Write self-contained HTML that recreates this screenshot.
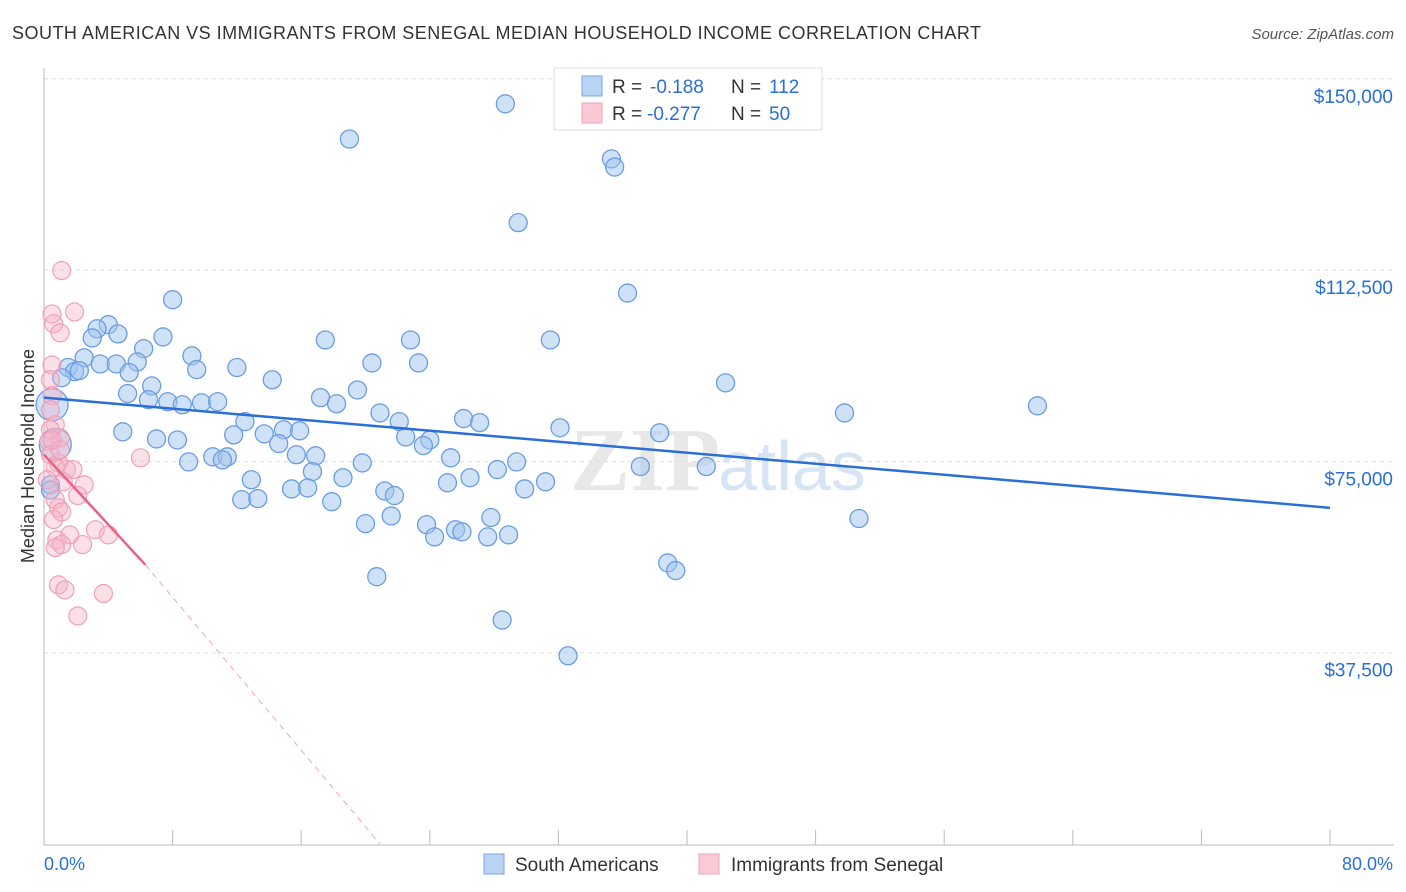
<!DOCTYPE html>
<html><head><meta charset="utf-8"><style>
body{margin:0;background:#fff;font-family:"Liberation Sans",sans-serif}
svg{display:block}
</style></head><body>
<svg id="c" width="1406" height="892">
<text x="12" y="39" font-size="18" fill="#333" textLength="969" lengthAdjust="spacing">SOUTH AMERICAN VS IMMIGRANTS FROM SENEGAL MEDIAN HOUSEHOLD INCOME CORRELATION CHART</text>
<text x="1394" y="39" font-size="15" fill="#555" font-style="italic" text-anchor="end">Source: ZipAtlas.com</text>
<text x="720" y="490" font-size="90" font-weight="bold" fill="#e8e8e8" text-anchor="end" font-family="Liberation Serif">ZIP</text>
<text x="718" y="490" font-size="70" fill="#d6e4f5">atlas</text>
<g id="grid"></g><g id="axes"></g><g id="marks"></g>
<text transform="translate(34,456) rotate(-90)" font-size="18" fill="#333" text-anchor="middle">Median Household Income</text>
<g>
<rect x="554" y="68" width="268" height="62" fill="#fff" stroke="#ddd"/>
<rect x="582" y="76" width="20" height="20" fill="#b9d3f3" stroke="#7aa7e0"/>
<rect x="582" y="103" width="20" height="20" fill="#f9c9d6" stroke="#eea3b8"/>
<text x="612" y="93" font-size="19" fill="#333">R =</text><text x="650" y="93" font-size="19" fill="#2a6fd6">-0.188</text>
<text x="731" y="93" font-size="19" fill="#333">N =</text><text x="769" y="93" font-size="19" fill="#2a6fd6">112</text>
<text x="612" y="120" font-size="19" fill="#333">R =</text><text x="647" y="120" font-size="19" fill="#2a6fd6">-0.277</text>
<text x="731" y="120" font-size="19" fill="#333">N =</text><text x="769" y="120" font-size="19" fill="#2a6fd6">50</text>
</g>
<g>
<rect x="484" y="854" width="20" height="20" fill="#b9d3f3" stroke="#7aa7e0"/>
<text x="515" y="871" font-size="19" fill="#333">South Americans</text>
<rect x="699" y="854" width="20" height="20" fill="#f9c9d6" stroke="#eea3b8"/>
<text x="731" y="871" font-size="19" fill="#333">Immigrants from Senegal</text>
</g>
</svg>
<script>
const blueX=[28.7,19.0,35.3,35.5,29.5,36.3,8.0,4.0,3.3,4.6,7.4,3.0,6.2,17.5,22.8,31.5,9.2,2.5,1.5,3.5,4.5,5.8,9.5,12.0,20.4,23.3,1.9,2.2,5.3,1.1,6.7,14.2,42.4,5.2,6.5,7.7,8.6,9.8,10.8,19.5,17.2,18.2,61.8,49.8,20.9,22.1,26.1,27.1,12.5,4.9,11.8,13.7,14.9,15.9,7.0,8.3,22.5,24.0,32.1,38.3,14.6,23.6,10.5,11.4,11.1,9.0,15.7,16.9,19.8,25.3,37.1,41.2,28.2,29.4,12.9,16.7,18.6,26.5,25.1,31.2,21.2,21.8,15.4,16.4,29.9,12.3,13.3,17.9,20.0,21.6,23.8,27.8,25.6,26.0,24.3,27.6,28.9,50.7,38.8,39.3,20.7,28.5,32.6,0.5,0.7,0.4,0.4];
const blueY=[145.1,138.2,134.3,132.7,121.8,108.0,106.7,101.8,101.0,100.0,99.4,99.2,97.1,98.8,98.8,98.8,95.7,95.3,93.4,94.1,94.1,94.5,93.0,93.4,94.3,94.3,92.6,92.8,92.4,91.4,89.8,91.0,90.4,88.3,87.1,86.7,86.1,86.5,86.7,89.0,87.5,86.3,85.9,84.5,84.5,82.8,83.4,82.6,82.8,80.8,80.2,80.4,81.2,81.0,79.4,79.2,79.8,79.2,81.6,80.6,78.5,78.1,75.9,75.9,75.3,74.9,76.3,76.1,74.7,75.7,74.0,74.0,73.4,74.9,71.4,73.0,71.8,71.8,70.8,71.0,69.2,68.3,69.6,69.8,69.6,67.5,67.7,67.1,62.8,64.3,62.6,64.0,61.6,61.2,60.2,60.2,60.6,63.8,55.1,53.6,52.4,43.9,36.9,86.1,78.3,70.4,69.4];
const pinkX=[1.1,1.9,0.5,0.6,1.0,0.5,0.4,0.5,0.4,0.7,1.0,0.3,0.4,0.9,0.7,1.4,1.8,1.2,2.5,2.1,0.7,0.9,1.1,6.0,0.2,3.2,1.6,4.0,0.8,1.1,2.4,0.7,0.9,1.3,3.7,2.1,0.4,0.6,1.0,0.5];
const pinkY=[112.4,104.3,103.9,102.0,100.2,93.9,91.0,87.9,85.1,82.2,79.6,78.9,76.3,74.7,73.8,73.4,73.4,71.0,70.4,68.3,67.5,65.9,65.1,75.7,71.4,61.6,60.6,60.6,59.6,58.7,58.7,58.1,50.8,49.8,49.1,44.7,81.2,63.6,77.3,79.2];
const blueTrend=[[0,87.5],[80,65.9]];
const pinkTrend=[[0,76.3],[6.3,54.75]];
const pinkDash=[[6.3,54.75],[20.9,0]];
const yTicks=[150,112.5,75,37.5];
const yTickLabels=["$150,000","$112,500","$75,000","$37,500"];
const xTickVals=[0,8,16,24,32,40,48,56,64,72,80];
const X=v=>44+v*(1286/80);
const Y=v=>844-v*(765.2/150);
const NS='http://www.w3.org/2000/svg';
function mk(p,t,a){const e=document.createElementNS(NS,t);for(const k in a)e.setAttribute(k,a[k]);document.getElementById(p).appendChild(e);return e;}
yTicks.forEach((t,i)=>{
 const g=mk('grid','line',{x1:44,x2:1394,y1:Y(t),y2:Y(t),stroke:'#ddd','stroke-dasharray':'4,4'});
 
 
 const l=mk('axes','text',{x:1393,y:Y(t)+24,'font-size':19,fill:'#2a6fd6','text-anchor':'end'});
 l.textContent=yTickLabels[i];
 
 
});
const ax=mk('axes','line',{x1:44,x2:44,y1:68,y2:845,stroke:'#bbb'});


const bx=mk('axes','line',{x1:44,x2:1394,y1:845,y2:845,stroke:'#bbb'});


xTickVals.forEach(t=>{
 const k=mk('axes','line',{x1:X(t),x2:X(t),y1:830,y2:845,stroke:'#bbb'});
 
 
});
const x0=mk('axes','text',{x:44,y:870,'font-size':18,fill:'#2a6fd6'});x0.textContent='0.0%';


const x1=mk('axes','text',{x:1393,y:870,'font-size':18,fill:'#2a6fd6','text-anchor':'end'});x1.textContent='80.0%';


const bigBlue=[103,104];
blueX.forEach((v,i)=>{
 const c=mk('marks','circle',{cx:X(v),cy:Y(blueY[i]),r:bigBlue.includes(i)?16:9,fill:'rgba(160,196,240,0.5)',stroke:'#6a9de0','stroke-width':1.3});
 
 
});
pinkX.forEach((v,i)=>{
 const c=mk('marks','circle',{cx:X(v),cy:Y(pinkY[i]),r:9,fill:'rgba(246,178,198,0.4)',stroke:'#f0a0b8','stroke-width':1.2});
 
 
});
const bl=mk('marks','line',{x1:X(blueTrend[0][0]),y1:Y(blueTrend[0][1]),x2:X(blueTrend[1][0]),y2:Y(blueTrend[1][1]),stroke:'#2a6fd6','stroke-width':2.5});


const pl=mk('marks','line',{x1:X(pinkTrend[0][0]),y1:Y(pinkTrend[0][1]),x2:X(pinkTrend[1][0]),y2:Y(pinkTrend[1][1]),stroke:'#e8628a','stroke-width':2.5});


const pd=mk('marks','line',{x1:X(pinkDash[0][0]),y1:Y(pinkDash[0][1]),x2:X(pinkDash[1][0]),y2:Y(pinkDash[1][1]),stroke:'#eea3b8','stroke-width':1,'stroke-dasharray':'6,5'});


</script>
</body></html>
